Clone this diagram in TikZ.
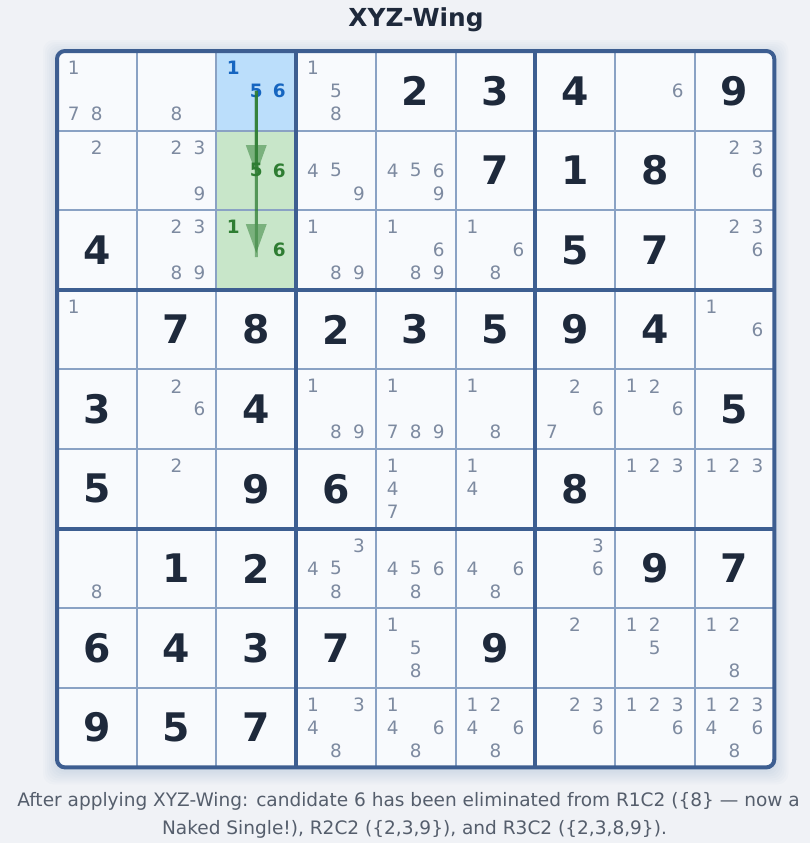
\documentclass[tikz,border=0pt]{standalone}
\usepackage{fontspec}
\setmainfont{DejaVu Sans}
\usepackage{tikz}
\usetikzlibrary{arrows.meta,positioning}
\usepackage{xcolor}

\definecolor{pagebg}{RGB}{240,242,246}
\definecolor{cellbg}{RGB}{248,250,253}
\definecolor{gridline}{RGB}{138,162,196}
\definecolor{boxline}{RGB}{61,94,145}
\definecolor{givencol}{RGB}{30,41,59}
\definecolor{candcol}{RGB}{125,138,160}
\definecolor{pivotfill}{RGB}{187,222,251}
\definecolor{wingfill}{RGB}{200,230,201}
\definecolor{pivotcol}{RGB}{21,101,192}
\definecolor{wingcol}{RGB}{46,125,50}
\definecolor{captioncol}{RGB}{85,94,108}

\begin{document}
\begin{tikzpicture}[
    x=0.75pt, y=-0.75pt,
    title/.style={font=\fontsize{18.6}{22}\selectfont\bfseries, text=givencol, inner sep=0pt},
    caption/.style={font=\fontsize{13.9}{16}\selectfont, text=captioncol, inner sep=0pt},
    given/.style={font=\fontsize{29.5}{32}\selectfont\bfseries, text=givencol, inner sep=0pt},
    cand/.style={font=\fontsize{13.8}{15}\selectfont, text=candcol, inner sep=0pt},
    pivot/.style={cand, font=\fontsize{13.8}{15}\selectfont\bfseries, text=pivotcol},
    wing/.style={cand, font=\fontsize{13.8}{15}\selectfont\bfseries, text=wingcol},
    minor/.style={draw=gridline, line width=1.5pt},
    major/.style={draw=boxline, line width=3pt},
    link/.style={draw=wingcol, line width=2.25pt, opacity=0.5, -{Triangle[width=15.75pt,length=21.75pt,line width=0pt]}},
    linkcore/.style={draw=wingcol, line width=2.25pt, opacity=0.5}
    ]

    \useasboundingbox (0,0) rectangle (810,843);
    \fill[pagebg] (0,0) rectangle (810,843);

    % soft shadow and board
    \foreach \s in {2,4,...,14}
        \fill[boxline, opacity=0.018, rounded corners=8pt] ({57-\s},{51-\s+3}) rectangle ({774.3+\s},{767.4+\s+3});
    \fill[cellbg, rounded corners=6pt] (57,51) rectangle (774.3,767.4);

    \fill[pivotfill] (216.4,51) rectangle (296.1,130.6);
    \fill[wingfill] (216.4,130.6) rectangle (296.1,289.8);

    \foreach \k in {1,2,4,5,7,8} {
        \draw[minor] ({57+\k*79.7},51) -- ({57+\k*79.7},767.4);
        \draw[minor] (57,{51+\k*79.6}) -- (774.3,{51+\k*79.6});
    }
    \foreach \k in {3,6} {
        \draw[major] ({57+\k*79.7},51) -- ({57+\k*79.7},767.4);
        \draw[major] (57,{51+\k*79.6}) -- (774.3,{51+\k*79.6});
    }
    \draw[major, rounded corners=6pt] (57,51) rectangle (774.3,767.4);

    \node[title, anchor=base] (heading) at (416,26.5) {XYZ-Wing};

    % givens
    \foreach \r/\c/\v in {1/5/2, 1/6/3, 1/7/4, 1/9/9,
                          2/6/7, 2/7/1, 2/8/8,
                          3/1/4, 3/7/5, 3/8/7,
                          4/2/7, 4/3/8, 4/4/2, 4/5/3, 4/6/5, 4/7/9, 4/8/4,
                          5/1/3, 5/3/4, 5/9/5,
                          6/1/5, 6/3/9, 6/4/6, 6/7/8,
                          7/2/1, 7/3/2, 7/8/9, 7/9/7,
                          8/1/6, 8/2/4, 8/3/3, 8/4/7, 8/6/9,
                          9/1/9, 9/2/5, 9/3/7}
        \node[given] (g-\r-\c) at ({57+(\c-0.5)*79.7},{51+(\r-0.5)*79.6}) {\v};

    % candidates
    \foreach \r/\c/\list/\sty in {1/1/{1,7,8}/cand, 1/2/{8}/cand, 1/3/{1,5,6}/pivot, 1/4/{1,5,8}/cand, 1/8/{6}/cand,
                                  2/1/{2}/cand, 2/2/{2,3,9}/cand, 2/3/{5,6}/wing, 2/4/{4,5,9}/cand, 2/5/{4,5,6,9}/cand, 2/9/{2,3,6}/cand,
                                  3/2/{2,3,8,9}/cand, 3/3/{1,6}/wing, 3/4/{1,8,9}/cand, 3/5/{1,6,8,9}/cand, 3/6/{1,6,8}/cand, 3/9/{2,3,6}/cand,
                                  4/1/{1}/cand, 4/9/{1,6}/cand,
                                  5/2/{2,6}/cand, 5/4/{1,8,9}/cand, 5/5/{1,7,8,9}/cand, 5/6/{1,8}/cand, 5/7/{2,6,7}/cand, 5/8/{1,2,6}/cand,
                                  6/2/{2}/cand, 6/5/{1,4,7}/cand, 6/6/{1,4}/cand, 6/8/{1,2,3}/cand, 6/9/{1,2,3}/cand,
                                  7/1/{8}/cand, 7/4/{3,4,5,8}/cand, 7/5/{4,5,6,8}/cand, 7/6/{4,6,8}/cand, 7/7/{3,6}/cand,
                                  8/5/{1,5,8}/cand, 8/7/{2}/cand, 8/8/{1,2,5}/cand, 8/9/{1,2,8}/cand,
                                  9/4/{1,3,4,8}/cand, 9/5/{1,4,6,8}/cand, 9/6/{1,2,4,6,8}/cand, 9/7/{2,3,6}/cand,
                                  9/8/{1,2,3,6}/cand, 9/9/{1,2,3,4,6,8}/cand}
        \foreach \d in \list {
            \pgfmathtruncatemacro\dx{mod(\d-1,3)-1}
            \pgfmathtruncatemacro\dy{div(\d-1,3)-1}
            \node[\sty] (c-\r-\c-\d) at ({57+(\c-0.5)*79.7+23*\dx},{51+(\r-0.5)*79.6+23*\dy}) {\d};
        }

    \coordinate (tip1) at (256.25,174);
    \coordinate (tip2) at (256.25,253);
    \path[link] (c-1-3-5.center) -- (tip1);
    \path[link] (c-1-3-5.center) -- (tip2);
    \path[linkcore] (c-1-3-5.center) -- (tip1);
    \path[linkcore] (c-1-3-5.center) -- ([yshift=-3]tip2);

    \node[caption, anchor=base west] (caption1) at (17,806) {After applying XYZ-Wing: candidate 6 has been eliminated from R1C2 (\{8\} — now a};
    \node[caption, anchor=base] (caption2) at (414.5,834) {Naked Single!), R2C2 (\{2,3,9\}), and R3C2 (\{2,3,8,9\}).};
\end{tikzpicture}
\end{document}
